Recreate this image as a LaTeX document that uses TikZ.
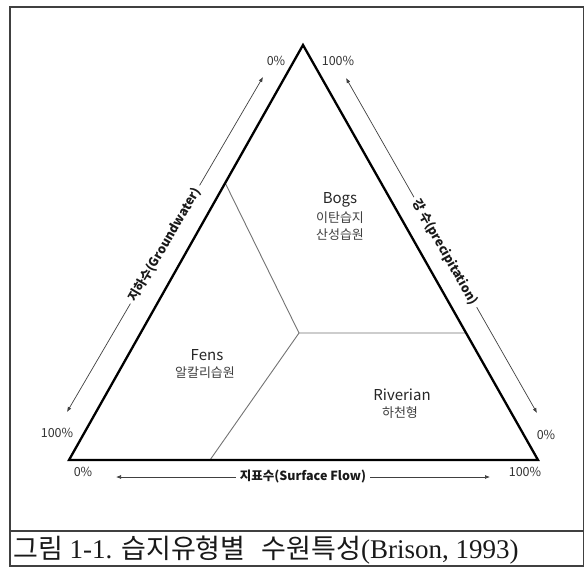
\documentclass[tikz,border=0pt]{standalone}
\usepackage{fontspec}
\setmainfont{Liberation Serif}
\newfontfamily\krf{Noto Sans CJK KR}
\usetikzlibrary{arrows.meta,calc}
\begin{document}
\begin{tikzpicture}[x=1pt,y=-1pt,
  tri/.style={line width=2.3pt, line join=miter, draw=black},
  part/.style={line width=0.9pt, draw=black!55},
  flow/.style={line width=0.7pt, draw=black!75, {Latex[length=5pt,width=4pt]}-{Latex[length=5pt,width=4pt]}},
  edgelab/.style={font=\krf\bfseries\fontsize{12.5}{14}\selectfont, fill=white, inner sep=4pt, sloped, text=black!90},
  pct/.style={font=\krf\fontsize{12.5}{14}\selectfont, text=black!80},
  regname/.style={font=\krf\fontsize{15}{17}\selectfont, text=black!85},
  kname/.style={font=\krf\fontsize{13}{15}\selectfont, text=black!75},
  frame/.style={line width=1.5pt, draw=black!75}
]
\useasboundingbox (0,0) rectangle (585,567);
\fill[white] (0,0) rectangle (585,567);
\draw[frame] (10,7) rectangle (583.5,566);
\draw[frame] (10,531) -- (583.5,531);

% triangle
\coordinate (A) at (303,45);
\coordinate (L) at (69,460);
\coordinate (R) at (538,460);
\coordinate (C) at (299,333);
\coordinate (P) at ($(A)!0.3325!(L)$);
\coordinate (Q) at ($(A)!0.694!(R)$);
\coordinate (B) at (210,460);
\draw[part] (P) -- (C) -- (Q);
\draw[part] (C) -- (B);
\draw[tri] (A) -- (R) -- (L) -- cycle;

% arrows
\coordinate (g1) at (67,412);
\coordinate (g2) at (263,77);
\coordinate (p1) at (346,78);
\coordinate (p2) at (537,413);
\coordinate (s1) at (116,477);
\coordinate (s2) at (490,477);
\draw[flow] (g1) -- node[edgelab] (glab) {지하수(Groundwater)} (g2);
\draw[flow] (p1) -- node[edgelab, pos=0.52] (plab) {강 수(precipitation)} (p2);
\draw[flow] (s1) -- node[edgelab] (slab) {지표수(Surface Flow)} (s2);

% percentages
\node[pct] (t0) at (276,61) {0\%};
\node[pct] (t100) at (338,61) {100\%};
\node[pct] (l100) at (57,433) {100\%};
\node[pct] (l0) at (83,472) {0\%};
\node[pct] (r0) at (546,435) {0\%};
\node[pct] (r100) at (525,472) {100\%};

% regions
\node[regname] (bogs) at (340,200) {Bogs};
\node[kname] (bogs2) at (340,218) {이탄습지};
\node[kname] (bogs3) at (340,235) {산성습원};
\node[regname] (fens) at (207,355) {Fens};
\node[kname] (fens2) at (205,373) {알칼리습원};
\node[regname] (riv) at (402,395) {Riverian};
\node[kname] (riv2) at (400,413) {하천형};

% caption
\node[anchor=west, inner sep=0pt, text=black!90] (cap) at (13,550)
  {\fontsize{27}{30}\selectfont{\krf 그림} 1-1. {\krf 습지유형별}\hspace{0.6em}{\krf 수원특성}(Brison, 1993)};
\end{tikzpicture}
\end{document}
